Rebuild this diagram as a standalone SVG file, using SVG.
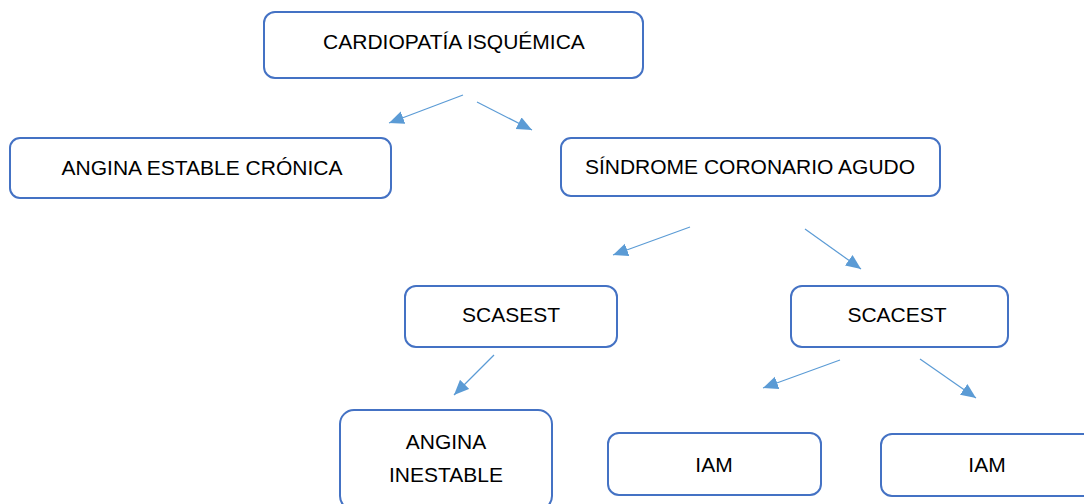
<svg xmlns="http://www.w3.org/2000/svg" width="1084" height="504" viewBox="0 0 1084 504">
<defs>
<marker id="ah" markerWidth="16" markerHeight="14" refX="15" refY="6.5" orient="auto" markerUnits="userSpaceOnUse">
<path d="M0,0 L15,6.5 L0,13 z" fill="#5B9BD5"/>
</marker>
<style>
.box{fill:#fff;stroke:#4472C4;stroke-width:2}
.t{font-family:"Liberation Sans",Arial,sans-serif;font-size:21px;fill:#000;text-anchor:middle}
.c{stroke:#5B9BD5;stroke-width:1.2;fill:none;marker-end:url(#ah)}
</style>
</defs>
<rect width="1084" height="504" fill="#fff"/>
<g id="connectors">
<line class="c" x1="463" y1="95" x2="389" y2="123"/>
<line class="c" x1="477" y1="102" x2="532" y2="130"/>
<line class="c" x1="690" y1="227" x2="613" y2="255"/>
<line class="c" x1="805" y1="229" x2="861" y2="269"/>
<line class="c" x1="494" y1="355" x2="454" y2="395"/>
<line class="c" x1="840" y1="360" x2="763" y2="388"/>
<line class="c" x1="920" y1="359" x2="976" y2="398"/>
</g>
<g id="n1"><rect class="box" x="264" y="12" width="379" height="66" rx="11"/><text class="t" x="454" y="49">CARDIOPATÍA ISQUÉMICA</text></g>
<g id="n2"><rect class="box" x="10" y="138" width="381" height="60" rx="10"/><text class="t" x="202" y="175">ANGINA ESTABLE CRÓNICA</text></g>
<g id="n3"><rect class="box" x="561" y="138" width="379" height="58" rx="10"/><text class="t" x="750" y="174">SÍNDROME CORONARIO AGUDO</text></g>
<g id="n4"><rect class="box" x="405" y="286" width="212" height="61" rx="11"/><text class="t" x="511" y="322">SCASEST</text></g>
<g id="n5"><rect class="box" x="791" y="286" width="217" height="61" rx="11"/><text class="t" x="897" y="322">SCACEST</text></g>
<g id="n6"><rect class="box" x="340" y="410" width="212" height="100" rx="14"/><text class="t" x="446" y="449">ANGINA</text><text class="t" x="446" y="482">INESTABLE</text></g>
<g id="n7"><rect class="box" x="608" y="433" width="213" height="62" rx="11"/><text class="t" x="714" y="472">IAM</text></g>
<g id="n8"><rect class="box" x="881" y="434" width="213" height="62" rx="11"/><text class="t" x="987" y="472">IAM</text></g>
</svg>
